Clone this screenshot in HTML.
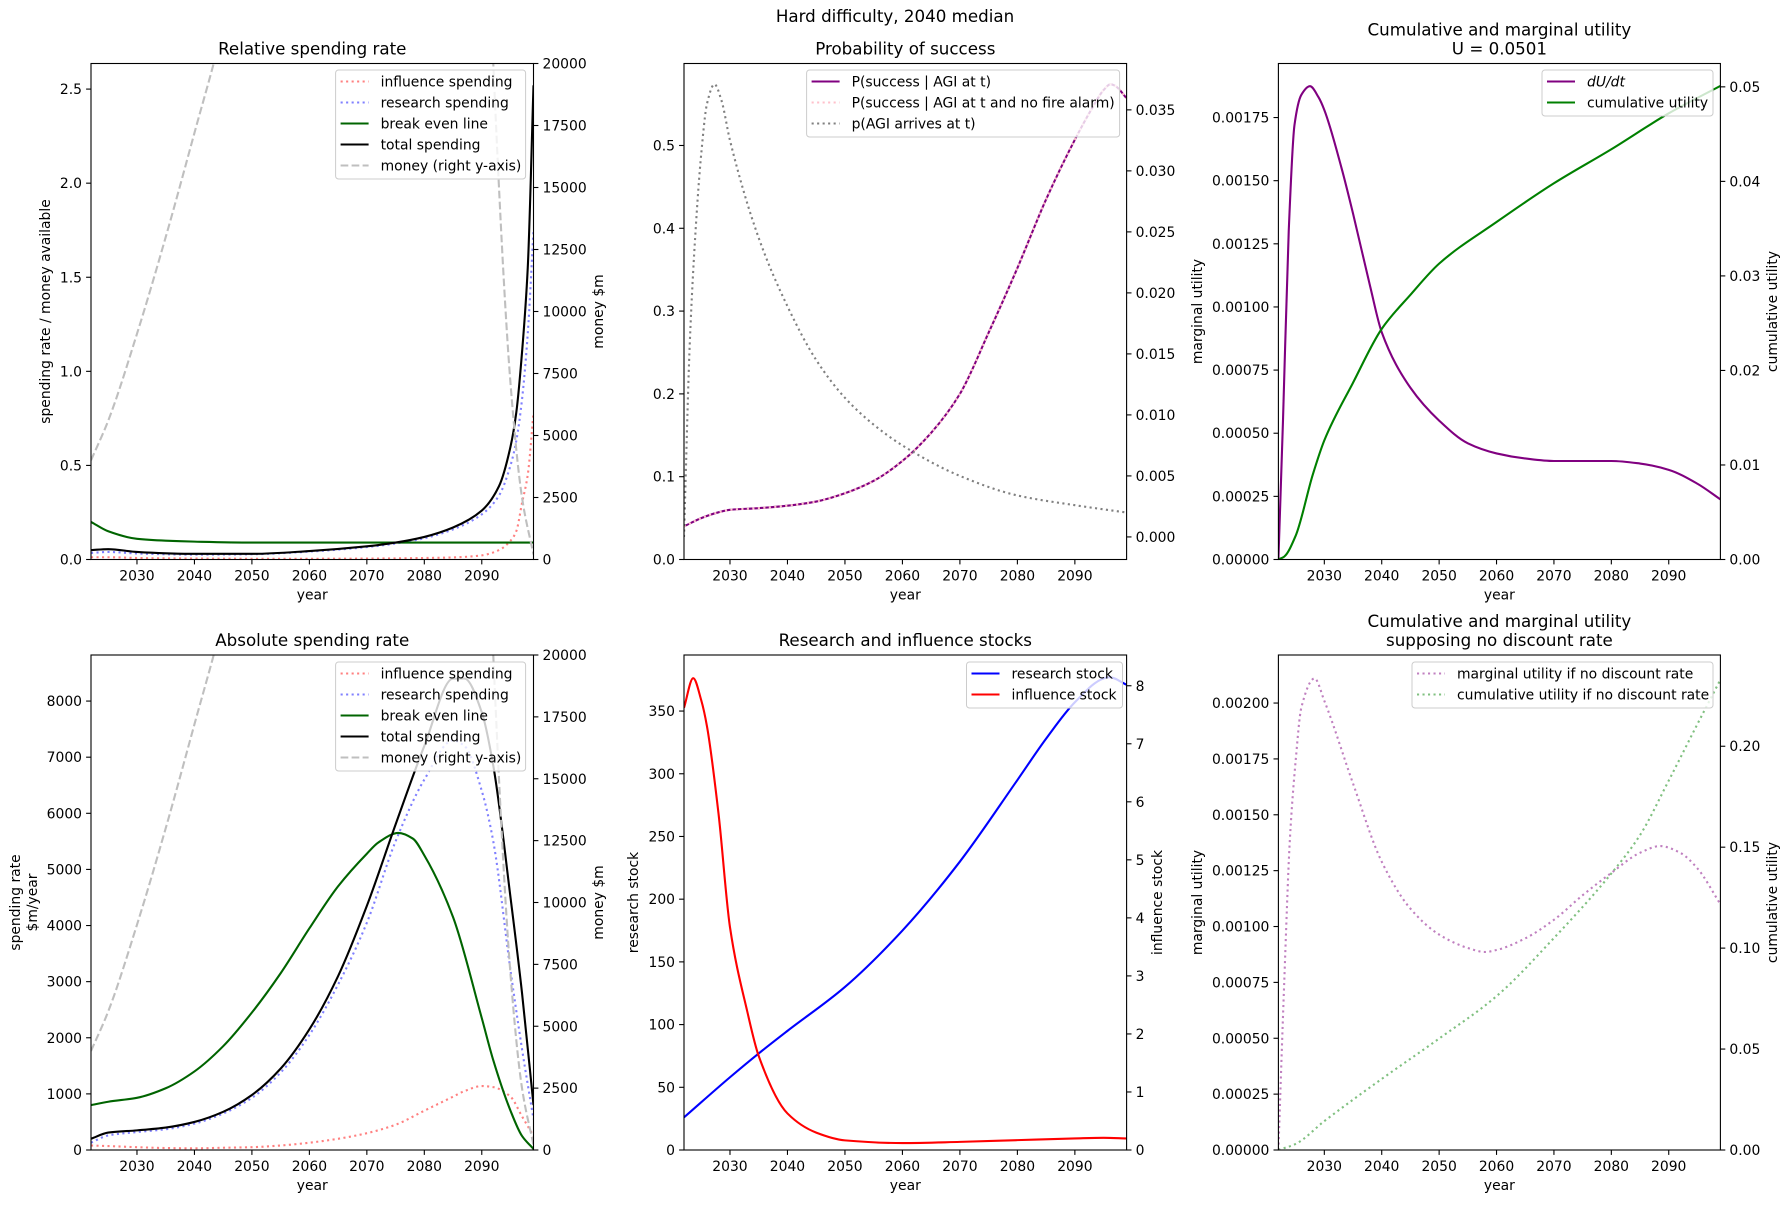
<!DOCTYPE html>
<html><head><meta charset="utf-8">
<style>
html,body{margin:0;padding:0;background:#fff;}
svg{display:block;font-family:"DejaVu Sans","Liberation Sans",sans-serif;}
</style></head>
<body>
<svg id="fig" width="1790" height="1205" viewBox="0 0 1790 1205" xmlns="http://www.w3.org/2000/svg">
<rect x="0" y="0" width="1790" height="1205" fill="#fff"/>
<text x="895" y="22" font-size="16.7" text-anchor="middle">Hard difficulty, 2040 median</text>
</svg>
<script>
// ---------- data ----------
const xTicks = [2030,2040,2050,2060,2070,2080,2090];

// Panel 1: relative spending rate
const relYears = [2022,2025,2030,2035,2040,2050,2060,2070,2075,2080,2085,2090,2093,2095,2096,2097,2098,2099];
const relTotal = [0.05,0.055,0.04,0.033,0.03,0.03,0.045,0.07,0.09,0.12,0.17,0.26,0.39,0.6,0.78,1.1,1.55,2.52];
const relResearch = [0.035,0.04,0.032,0.028,0.026,0.028,0.042,0.066,0.085,0.113,0.16,0.24,0.34,0.5,0.63,0.85,1.2,1.75];
const relInfluence = [0.012,0.012,0.008,0.006,0.005,0.004,0.004,0.005,0.006,0.008,0.011,0.022,0.05,0.1,0.15,0.3,0.45,0.78];
const relBreakEven = [0.2,0.15,0.11,0.1,0.095,0.09,0.09,0.09,0.09,0.09,0.09,0.09,0.09,0.09,0.09,0.09,0.09,0.09];
const moneyYears = [2022,2025,2030,2035,2040,2045,2050,2060,2070,2080,2085,2090,2092,2095,2097,2099];
const moneyVals = [4000,5600,9100,13000,17200,21500,27000,40000,55000,60000,55000,33000,20000,7100,2500,200];
const relTicksL = [0,0.5,1.0,1.5,2.0,2.5];
const relTickLabelsL = ["0.0","0.5","1.0","1.5","2.0","2.5"];
const moneyTicks = [0,2500,5000,7500,10000,12500,15000,17500,20000];
const moneyTickLabels = ["0","2500","5000","7500","10000","12500","15000","17500","20000"];

// Panel 2: probability of success
const psYears = [2022,2025,2028,2030,2035,2040,2045,2050,2055,2060,2065,2070,2075,2080,2085,2090,2093,2095,2096.2,2097,2099];
const psVals = [0.04,0.05,0.057,0.06,0.062,0.065,0.07,0.08,0.095,0.119,0.153,0.2,0.274,0.352,0.435,0.507,0.545,0.567,0.574,0.572,0.557];
const agiYears = [2022,2023,2024,2025,2026,2027.3,2028.5,2030,2035,2040,2045,2050,2055,2060,2070,2080,2090,2099];
const agiVals = [0,0.0158,0.025,0.0314,0.0355,0.0371,0.0358,0.0325,0.0245,0.0189,0.0145,0.0114,0.0092,0.0075,0.0050,0.0034,0.0026,0.002];
const psTicksL = [0,0.1,0.2,0.3,0.4,0.5];
const psTickLabelsL = ["0.0","0.1","0.2","0.3","0.4","0.5"];
const agiTicks = [0,0.005,0.01,0.015,0.02,0.025,0.03,0.035];
const agiTickLabels = ["0.000","0.005","0.010","0.015","0.020","0.025","0.030","0.035"];

// Panel 3: cumulative & marginal utility
const duYears = [2022,2022.8,2023.8,2024.8,2026,2027.5,2029,2030,2033,2035,2038,2040,2045,2050,2055,2060,2065,2070,2080,2085,2090,2095,2099];
const duVals = [0,0.00055,0.0013,0.00172,0.00184,0.001874,0.00183,0.00178,0.00155,0.00137,0.00108,0.0009,0.00068,0.00055,0.00046,0.00042,0.0004,0.00039,0.00039,0.00038,0.000355,0.0003,0.000238];
const cuYears = [2022,2023,2025,2028,2030,2035,2040,2045,2050,2060,2070,2080,2090,2099];
const cuVals = [0,0.0003,0.0025,0.009,0.0126,0.0187,0.0244,0.028,0.0313,0.0357,0.0398,0.0434,0.0472,0.0501];
const duTicks = [0,0.00025,0.0005,0.00075,0.001,0.00125,0.0015,0.00175];
const duTickLabels = ["0.00000","0.00025","0.00050","0.00075","0.00100","0.00125","0.00150","0.00175"];
const cuTicks = [0,0.01,0.02,0.03,0.04,0.05];
const cuTickLabels = ["0.00","0.01","0.02","0.03","0.04","0.05"];

// Panel 4: absolute spending rate
const absYears = [2022,2025,2030,2035,2040,2045,2050,2055,2060,2065,2070,2075,2080,2085,2087,2090,2092,2095,2097,2099];
const absTotal = [200,310,350,400,500,680,980,1450,2150,3100,4350,5800,7200,8400,8400,7800,6850,4500,2800,800];
const absResearch = [130,260,320,370,470,650,930,1380,2050,2950,4050,5500,6600,7300,7200,6400,5500,3200,1800,550];
const absInfluence = [80,70,50,35,30,40,50,80,130,200,300,450,700,950,1050,1140,1120,950,600,250];
const beYears = [2022,2025,2030,2035,2040,2045,2050,2055,2060,2065,2070,2072,2075.5,2078,2080,2085,2090,2092,2095,2097,2099];
const absBreakEven = [800,860,930,1100,1400,1850,2450,3150,3950,4700,5280,5480,5650,5550,5250,4150,2350,1600,700,250,20];
const absTicksL = [0,1000,2000,3000,4000,5000,6000,7000,8000];
const absTickLabelsL = ["0","1000","2000","3000","4000","5000","6000","7000","8000"];

// Panel 5: stocks
const rsYears = [2022,2030,2035,2040,2050,2060,2070,2080,2085,2090,2095,2096,2099];
const rsVals = [26,58,77,95,130,175,230,295,328,357,376,377,371];
const isYears = [2022,2023.6,2025,2026,2028,2030,2033,2035,2040,2045,2050,2060,2070,2080,2090,2095,2099];
const isVals = [7.62,8.13,7.75,7.3,5.8,3.84,2.39,1.62,0.63,0.3,0.166,0.12,0.14,0.17,0.2,0.21,0.2];
const rsTicks = [0,50,100,150,200,250,300,350];
const rsTickLabels = ["0","50","100","150","200","250","300","350"];
const isTicks = [0,1,2,3,4,5,6,7,8];
const isTickLabels = ["0","1","2","3","4","5","6","7","8"];

// Panel 6: no discount
const mnYears = [2022,2023,2024,2025,2026,2028.3,2030,2035,2040,2045,2050,2055,2058,2060,2065,2070,2075,2080,2085,2088.5,2092,2095,2099];
const mnVals = [0,0.00074,0.00139,0.00174,0.00198,0.00211,0.00201,0.00164,0.00129,0.00108,0.000964,0.000904,0.000886,0.000895,0.000947,0.00103,0.00114,0.00124,0.00133,0.00136,0.00133,0.00126,0.0011];
const cnYears = [2022,2025,2030,2040,2050,2060,2070,2080,2085,2090,2095,2099];
const cnVals = [0,0.003,0.0143,0.0352,0.0552,0.0762,0.105,0.137,0.156,0.183,0.211,0.233];
const mnTicks = [0,0.00025,0.0005,0.00075,0.001,0.00125,0.0015,0.00175,0.002];
const mnTickLabels = ["0.00000","0.00025","0.00050","0.00075","0.00100","0.00125","0.00150","0.00175","0.00200"];
const cnTicks = [0,0.05,0.1,0.15,0.2];
const cnTickLabels = ["0.00","0.05","0.10","0.15","0.20"];

// ---------- rendering ----------
const NS = "http://www.w3.org/2000/svg";
const svg = document.getElementById('fig');
function mk(tag, attrs, parent){
  const e = document.createElementNS(NS, tag);
  for (const k in attrs) e.setAttribute(k, attrs[k]);
  (parent||svg).appendChild(e);
  return e;
}
function monoPath(xs, ys){
  const n = xs.length;
  if (n < 2) return "";
  const d = [], m = new Array(n);
  for (let i=0;i<n-1;i++) d.push((ys[i+1]-ys[i])/(xs[i+1]-xs[i]));
  m[0]=d[0]; m[n-1]=d[n-2];
  for (let i=1;i<n-1;i++){
    if (d[i-1]*d[i] <= 0) m[i]=0;
    else { const w1=2*(xs[i+1]-xs[i])+(xs[i]-xs[i-1]), w2=(xs[i+1]-xs[i])+2*(xs[i]-xs[i-1]); m[i]=(w1+w2)/(w1/d[i-1]+w2/d[i]); }
  }
  let p = "M"+xs[0].toFixed(2)+","+ys[0].toFixed(2);
  for (let i=0;i<n-1;i++){
    const h = xs[i+1]-xs[i];
    p += " C"+(xs[i]+h/3).toFixed(2)+","+(ys[i]+m[i]*h/3).toFixed(2)+" "+(xs[i+1]-h/3).toFixed(2)+","+(ys[i+1]-m[i+1]*h/3).toFixed(2)+" "+xs[i+1].toFixed(2)+","+ys[i+1].toFixed(2);
  }
  return p;
}
const STY = { solid: "", dotted: "2.1,3.4", dashed: "7.7,3.3" };
let clipId = 0;
function panel(P){
  const g = mk('g', {});
  
  
  const B = P.box;
  const sx = v => B.l + (v-2022)/(2099-2022)*(B.r-B.l);
  const syL = v => B.b - (v-P.yL[0])/(P.yL[1]-P.yL[0])*(B.b-B.t);
  const syR = v => B.b - (v-P.yR[0])/(P.yR[1]-P.yR[0])*(B.b-B.t);
  const cid = 'clip'+(clipId++);
  const cp = mk('clipPath', {id: cid}, g);
  mk('rect', {x:B.l, y:B.t, width:B.r-B.l, height:B.b-B.t}, cp);
  const plot = mk('g', {'clip-path': 'url(#'+cid+')'}, g);
  
  
  P.series.forEach(s => {
    const sy = s.axis === 'R' ? syR : syL;
    const path = mk('path', {d: monoPath(s.x.map(sx), s.y.map(sy)), fill:'none', stroke:s.color, 'stroke-width': 2.1, 'stroke-dasharray': STY[s.style], 'stroke-linejoin':'round'}, plot);
    
    
  });
  const fr = mk('rect', {x:B.l, y:B.t, width:B.r-B.l, height:B.b-B.t, fill:'none', stroke:'#000', 'stroke-width':1.1}, g);
  
  
  xTicks.forEach(v => {
    const x = sx(v);
    mk('line', {x1:x, x2:x, y1:B.b, y2:B.b+4.9, stroke:'#000', 'stroke-width':1.1}, g);
    const t = mk('text', {x:x, y:B.b+21, 'font-size':13.9, 'text-anchor':'middle'}, g);
    t.textContent = v;
    
    
  });
  const xl = mk('text', {x:(B.l+B.r)/2, y:B.b+40, 'font-size':13.9, 'text-anchor':'middle'}, g);
  xl.textContent = 'year';
  
  
  P.ticksL.forEach((v,i) => {
    const y = syL(v);
    mk('line', {x1:B.l-4.9, x2:B.l, y1:y, y2:y, stroke:'#000', 'stroke-width':1.1}, g);
    const t = mk('text', {x:B.l-9, y:y+5, 'font-size':13.9, 'text-anchor':'end'}, g);
    t.textContent = P.labelsL[i];
    
    
  });
  P.ticksR.forEach((v,i) => {
    const y = syR(v);
    mk('line', {x1:B.r, x2:B.r+4.9, y1:y, y2:y, stroke:'#000', 'stroke-width':1.1}, g);
    const t = mk('text', {x:B.r+9, y:y+5, 'font-size':13.9, 'text-anchor':'start'}, g);
    t.textContent = P.labelsR[i];
    
    
  });
  (P.ylabL||[]).forEach((L,i) => {
    const t = mk('text', {transform:'translate('+L.x+','+((B.t+B.b)/2)+') rotate(-90)', 'font-size':13.9, 'text-anchor':'middle'}, g);
    t.textContent = L.t;
    
    
  });
  if (P.ylabR){
    const t = mk('text', {transform:'translate('+P.ylabR.x+','+((B.t+B.b)/2)+') rotate(-90)', 'font-size':13.9, 'text-anchor':'middle'}, g);
    t.textContent = P.ylabR.t;
    
    
  }
  P.title.forEach((line,i) => {
    const t = mk('text', {x:(B.l+B.r)/2, y:B.t - 9 - (P.title.length-1-i)*19, 'font-size':16.7, 'text-anchor':'middle'}, g);
    t.textContent = line;
    
    
  });
  const L = P.legend;
  const lg = mk('g', {}, g);
  
  
  mk('rect', {x:L.x, y:L.y, width:L.w, height:4+21*L.items.length, rx:3, fill:'#fff', 'fill-opacity':0.8, stroke:'#ccc', 'stroke-width':1}, lg);
  L.items.forEach((s,i) => {
    const y = L.y + 11.5 + 21*i;
    const ln = mk('line', {x1:L.x+5, x2:L.x+33, y1:y, y2:y, stroke:s.color, 'stroke-width':2.1, 'stroke-dasharray':STY[s.style]}, lg);
    
    
    const t = mk('text', {x:L.x+45, y:y+5, 'font-size':13.9, 'font-style': s.italic ? 'italic':'normal'}, lg);
    t.textContent = s.label;
    
    
  });
}

const C1={l:91,r:533.5}, C2={l:684,r:1126.6}, C3={l:1278.4,r:1720.4};
const R1={t:63.5,b:559.5}, R2={t:655,b:1150};
const box=(c,r)=>({l:c.l,r:c.r,t:r.t,b:r.b});

const sRelInf={name:'influence-spending-line',x:relYears,y:relInfluence,color:'#ff8080',style:'dotted',label:'influence spending'};
const sRelRes={name:'research-spending-line',x:relYears,y:relResearch,color:'#8080ff',style:'dotted',label:'research spending'};
const sRelBE={name:'break-even-line',x:relYears,y:relBreakEven,color:'#006400',style:'solid',label:'break even line'};
const sRelTot={name:'total-spending-line',x:relYears,y:relTotal,color:'#000',style:'solid',label:'total spending'};
const sMoney={name:'money-line',x:moneyYears,y:moneyVals,color:'#bfbfbf',style:'dashed',axis:'R',label:'money (right y-axis)'};
panel({name:'relative-spending-panel',box:box(C1,R1),yL:[0,2.636],yR:[0,20000],
  series:[sRelInf,sRelRes,sRelBE,sRelTot,sMoney],ticksL:relTicksL,labelsL:relTickLabelsL,ticksR:moneyTicks,labelsR:moneyTickLabels,
  ylabL:[{x:50,t:'spending rate / money available'}],ylabR:{x:603,t:'money $m'},title:['Relative spending rate'],
  legend:{x:335.6,y:70,w:190,items:[sRelInf,sRelRes,sRelBE,sRelTot,sMoney]}});

const sPS={name:'p-success-line',x:psYears,y:psVals,color:'#800080',style:'solid',label:'P(success | AGI at t)'};
const sPSF={name:'p-success-no-fire-alarm-line',x:psYears,y:psVals,color:'#ffc0cb',style:'dotted',label:'P(success | AGI at t and no fire alarm)'};
const sAGI={name:'p-agi-arrives-line',x:agiYears,y:agiVals,color:'#808080',style:'dotted',axis:'R',label:'p(AGI arrives at t)'};
panel({name:'probability-of-success-panel',box:box(C2,R1),yL:[0,0.599],yR:[-0.00185,0.0388],
  series:[sPS,sPSF,sAGI],ticksL:psTicksL,labelsL:psTickLabelsL,ticksR:agiTicks,labelsR:agiTickLabels,
  title:['Probability of success'],legend:{x:806.6,y:70,w:313,items:[sPS,sPSF,sAGI]}});

const sDU={name:'marginal-utility-line',x:duYears,y:duVals,color:'#800080',style:'solid',label:'dU/dt',italic:true};
const sCU={name:'cumulative-utility-line',x:cuYears,y:cuVals,color:'#008000',style:'solid',axis:'R',label:'cumulative utility'};
panel({name:'utility-panel',box:box(C3,R1),yL:[0,0.001964],yR:[0,0.05247],
  series:[sDU,sCU],ticksL:duTicks,labelsL:duTickLabels,ticksR:cuTicks,labelsR:cuTickLabels,
  ylabL:[{x:1202,t:'marginal utility'}],ylabR:{x:1777,t:'cumulative utility'},title:['Cumulative and marginal utility','U = 0.0501'],
  legend:{x:1542,y:70,w:171,items:[sDU,sCU]}});

const sAInf={name:'influence-spending-line',x:absYears,y:absInfluence,color:'#ff8080',style:'dotted',label:'influence spending'};
const sARes={name:'research-spending-line',x:absYears,y:absResearch,color:'#8080ff',style:'dotted',label:'research spending'};
const sABE={name:'break-even-line',x:beYears,y:absBreakEven,color:'#006400',style:'solid',label:'break even line'};
const sATot={name:'total-spending-line',x:absYears,y:absTotal,color:'#000',style:'solid',label:'total spending'};
const sMoney2={name:'money-line',x:moneyYears,y:moneyVals,color:'#bfbfbf',style:'dashed',axis:'R',label:'money (right y-axis)'};
panel({name:'absolute-spending-panel',box:box(C1,R2),yL:[0,8821],yR:[0,20000],
  series:[sAInf,sARes,sABE,sATot,sMoney2],ticksL:absTicksL,labelsL:absTickLabelsL,ticksR:moneyTicks,labelsR:moneyTickLabels,
  ylabL:[{x:20,t:'spending rate'},{x:37,t:'$m/year'}],ylabR:{x:603,t:'money $m'},title:['Absolute spending rate'],
  legend:{x:335.6,y:662,w:190,items:[sAInf,sARes,sABE,sATot,sMoney2]}});

const sRS={name:'research-stock-line',x:rsYears,y:rsVals,color:'#0000ff',style:'solid',label:'research stock'};
const sIS={name:'influence-stock-line',x:isYears,y:isVals,color:'#ff0000',style:'solid',axis:'R',label:'influence stock'};
panel({name:'stocks-panel',box:box(C2,R2),yL:[0,394.7],yR:[0,8.53],
  series:[sRS,sIS],ticksL:rsTicks,labelsL:rsTickLabels,ticksR:isTicks,labelsR:isTickLabels,
  ylabL:[{x:638,t:'research stock'}],ylabR:{x:1162,t:'influence stock'},title:['Research and influence stocks'],
  legend:{x:966.5,y:662,w:156,items:[sRS,sIS]}});

const sMN={name:'marginal-utility-no-discount-line',x:mnYears,y:mnVals,color:'#c080c0',style:'dotted',label:'marginal utility if no discount rate'};
const sCN={name:'cumulative-utility-no-discount-line',x:cnYears,y:cnVals,color:'#80c080',style:'dotted',axis:'R',label:'cumulative utility if no discount rate'};
panel({name:'utility-no-discount-panel',box:box(C3,R2),yL:[0,0.002215],yR:[0,0.2452],
  series:[sMN,sCN],ticksL:mnTicks,labelsL:mnTickLabels,ticksR:cnTicks,labelsR:cnTickLabels,
  ylabL:[{x:1202,t:'marginal utility'}],ylabR:{x:1777,t:'cumulative utility'},title:['Cumulative and marginal utility','supposing no discount rate'],
  legend:{x:1412,y:662,w:301,items:[sMN,sCN]}});
</script>
</body></html>
